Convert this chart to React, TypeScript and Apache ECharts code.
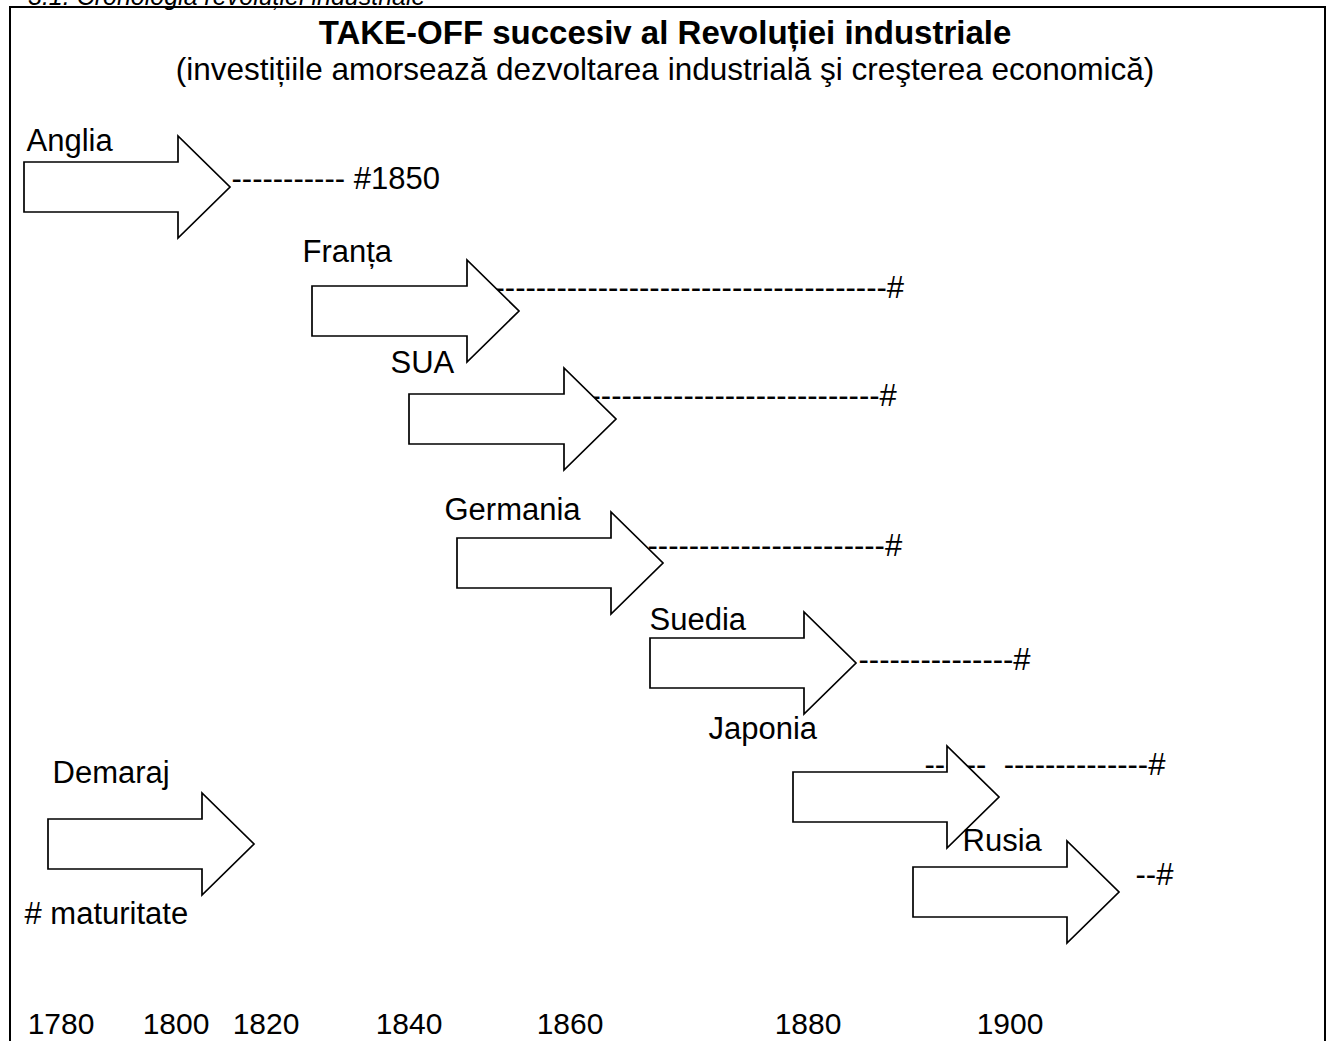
import React, { useEffect, useRef } from "react";
import * as echarts from "echarts";

const FONT = "'Liberation Sans', Arial, Helvetica, sans-serif";

// Position units along the (schematic) time axis and down the page
const countries = ["Anglia", "Franța", "SUA", "Germania", "Suedia", "Japonia", "Rusia"];
const takeOffStart = [24, 312, 409, 457, 650, 793, 913];
const takeOffEnd = [230, 519, 616, 663, 856, 999, 1119];
const takeOffRow = [187, 311, 419, 563, 663, 797, 892];
const labelStart = [26, 302, 390, 444, 649, 708, 962];
const labelRow = [140, 251, 362, 509, 619, 728, 840];

const dash = (n: number) => "-".repeat(n);
const maturityMarks = [
  dash(11) + " #1850",
  dash(38) + "#",
  dash(28) + "#",
  dash(23) + "#",
  dash(15) + "#",
  dash(6) + "\u00a0\u00a0" + dash(14) + "#",
  dash(2) + "#",
];
const maturityStart = [231, 494, 590, 647, 858, 924, 1135];
const maturityRow = [178, 287, 395, 545, 659, 764, 874];

const legendArrow = [48, 254, 844];
const legendLabels = ["Demaraj", "# maturitate"];
const legendLabelStart = [52, 24];
const legendLabelRow = [772, 913];

const yearLabels = ["1780", "1800", "1820", "1840", "1860", "1880", "1900"];
const yearPos = [61, 176, 266, 409, 570, 808, 1010];

const titleText = "TAKE-OFF succesiv al Revoluției industriale";
const subtitleText = "(investițiile amorsează dezvoltarea industrială şi creşterea economică)";
const headerText = "3.1. Cronologia revoluției industriale";

const ARROW_HEAD_LEN = 52;
const ARROW_BODY_HALF = 25;
const ARROW_HEAD_HALF = 51;

function renderArrow(_params: any, api: any) {
  const s = api.coord([api.value(0), api.value(2)]);
  const e = api.coord([api.value(1), api.value(2)]);
  const hx = e[0] - ARROW_HEAD_LEN;
  const y = s[1];
  return {
    type: "polygon",
    shape: {
      points: [
        [s[0], y - ARROW_BODY_HALF],
        [hx, y - ARROW_BODY_HALF],
        [hx, y - ARROW_HEAD_HALF],
        [e[0], y],
        [hx, y + ARROW_HEAD_HALF],
        [hx, y + ARROW_BODY_HALF],
        [s[0], y + ARROW_BODY_HALF],
      ],
    },
    style: { fill: "#ffffff", stroke: "#000000", lineWidth: 1.7, lineJoin: "miter" },
  };
}

const textLabel = (fontSize: number) => ({
  show: true,
  position: "right" as const,
  distance: 0,
  formatter: "{b}",
  color: "#000",
  opacity: 1,
  fontSize,
  fontFamily: FONT,
});

export default function App() {
  const ref = useRef<HTMLDivElement>(null);
  useEffect(() => {
    if (!ref.current) return;
    const chart = echarts.init(ref.current, null, { renderer: "svg" });
    const yearMap: Record<string, string> = {};
    yearPos.forEach((p, i) => (yearMap[String(p)] = yearLabels[i]));

    chart.setOption({
      animation: false,
      backgroundColor: "#ffffff",
      title: {
        text: titleText,
        subtext: subtitleText,
        left: "center",
        top: 11,
        itemGap: 4,
        textStyle: { fontSize: 33, fontWeight: "bold", color: "#000", fontFamily: FONT },
        subtextStyle: { fontSize: 31.5, color: "#000", fontFamily: FONT },
      },
      grid: { left: 0, right: 0, top: 0, bottom: 41 },
      xAxis: {
        type: "value",
        min: 0,
        max: 1330,
        axisLine: { show: false },
        axisTick: { show: false },
        splitLine: { show: false },
        axisLabel: {
          customValues: yearPos,
          formatter: (v: number) => yearMap[String(v)] ?? "",
          fontSize: 30,
          color: "#000",
          fontFamily: FONT,
          margin: 8,
        },
      },
      yAxis: { type: "value", min: 0, max: 1000, inverse: true, show: false },
      graphic: [
        {
          type: "rect",
          shape: { x: 10, y: 7, width: 1315, height: 1100 },
          style: { fill: "none", stroke: "#000", lineWidth: 2 },
          silent: true,
        },
        {
          type: "text",
          x: 28,
          y: -4,
          style: {
            text: headerText,
            font: `italic 25px ${FONT}`,
            fill: "#000",
            verticalAlign: "middle",
            align: "left",
          },
          silent: true,
        },
      ],
      series: [
        {
          type: "scatter",
          z: 1,
          silent: true,
          symbolSize: 1,
          itemStyle: { color: "rgba(0,0,0,0)" },
          label: textLabel(31),
          data: maturityMarks.map((t, i) => ({ name: t, value: [maturityStart[i], maturityRow[i]] })),
        },
        {
          type: "custom",
          z: 2,
          silent: true,
          renderItem: renderArrow,
          data: countries.map((_, i) => [takeOffStart[i], takeOffEnd[i], takeOffRow[i]]),
        },
        {
          type: "custom",
          z: 2,
          silent: true,
          renderItem: renderArrow,
          data: [legendArrow],
        },
        {
          type: "scatter",
          z: 3,
          silent: true,
          symbolSize: 1,
          itemStyle: { color: "rgba(0,0,0,0)" },
          label: textLabel(31),
          data: [
            ...countries.map((c, i) => ({ name: c, value: [labelStart[i], labelRow[i]] })),
            ...legendLabels.map((c, i) => ({ name: c, value: [legendLabelStart[i], legendLabelRow[i]] })),
          ],
        },
      ],
    });
    return () => chart.dispose();
  }, []);
  return (
    <div
      ref={ref}
      style={{ position: "absolute", left: 0, top: 0, width: 1330, height: 1041 }}
    />
  );
}
